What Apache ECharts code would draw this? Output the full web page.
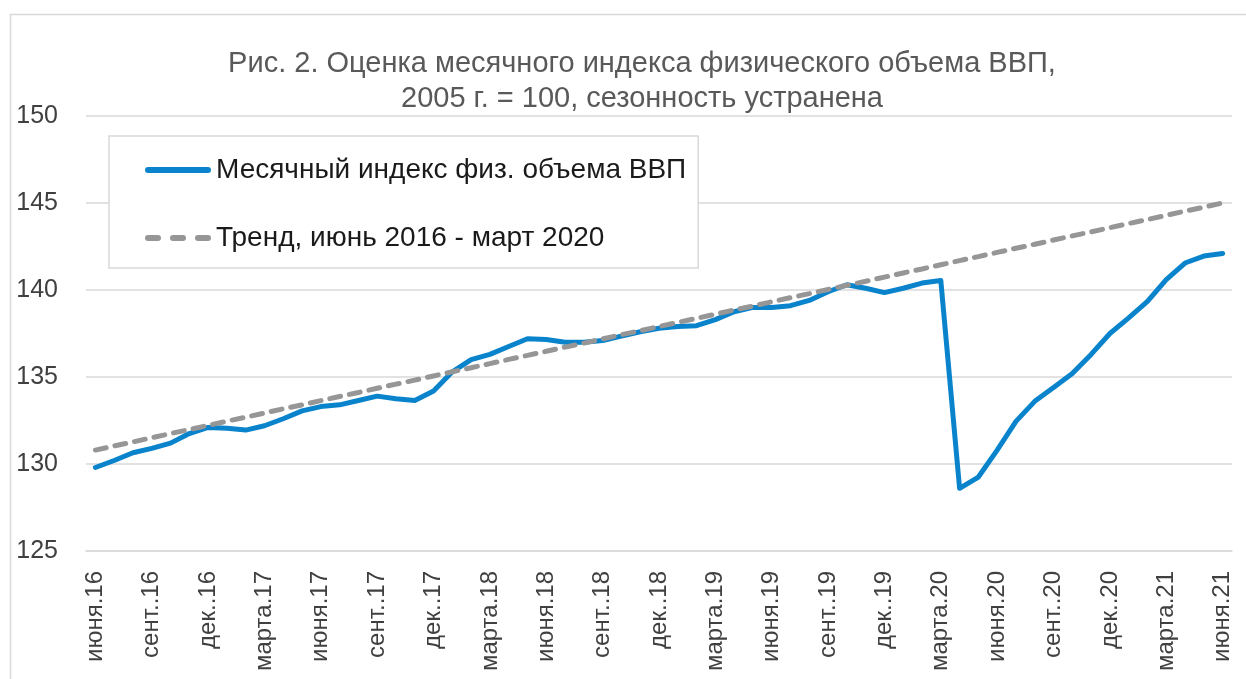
<!DOCTYPE html>
<html>
<head>
<meta charset="utf-8">
<script src="https://cdn.jsdelivr.net/npm/echarts@6/dist/echarts.min.js"></script>
<style>
html,body{margin:0;padding:0;background:#fff;}
#chart{width:1246px;height:679px;}
</style>
</head>
<body>
<div id="chart"></div>
<script>
// Month labels (Jun 2016 .. Jun 2021)
const monthNames = ['янв.', 'февр.', 'марта', 'апр.', 'мая', 'июня', 'июля', 'авг.', 'сент.', 'окт.', 'нояб.', 'дек.'];
const startYear = 2016, startMonth = 5, monthCount = 61;
const categories = [];
for (let k = 0; k < monthCount; k++) {
  const m = (startMonth + k) % 12;
  const y = startYear + Math.floor((startMonth + k) / 12);
  categories.push(monthNames[m] + '.' + String(y).slice(2));
}

const gdpIndex = [
  129.8, 130.2, 130.65, 130.9, 131.2, 131.75, 132.1, 132.05, 131.95, 132.2,
  132.6, 133.05, 133.3, 133.4, 133.65, 133.9, 133.75, 133.65, 134.2, 135.3,
  136.0, 136.3, 136.75, 137.2, 137.15, 137.0, 137.0, 137.1, 137.35, 137.6,
  137.8, 137.9, 137.95, 138.3, 138.75, 139.0, 139.0, 139.1, 139.4, 139.9,
  140.3, 140.1, 139.85, 140.1, 140.4, 140.55, 128.6, 129.25, 130.8, 132.45,
  133.6, 134.4, 135.2, 136.3, 137.5, 138.4, 139.35, 140.6, 141.55, 141.95, 142.1
];

const trend = [
  130.80, 131.04, 131.27, 131.51, 131.75, 131.98, 132.22, 132.46, 132.69, 132.93,
  133.17, 133.40, 133.64, 133.88, 134.11, 134.35, 134.59, 134.82, 135.06, 135.30,
  135.53, 135.77, 136.01, 136.24, 136.48, 136.72, 136.95, 137.19, 137.43, 137.66,
  137.90, 138.14, 138.37, 138.61, 138.85, 139.08, 139.32, 139.56, 139.79, 140.03,
  140.27, 140.50, 140.74, 140.98, 141.21, 141.45, 141.69, 141.92, 142.16, 142.40,
  142.63, 142.87, 143.11, 143.34, 143.58, 143.82, 144.05, 144.29, 144.53, 144.76, 145.00
];

const seriesNames = ['Месячный индекс физ. объема ВВП', 'Тренд, июнь 2016 - март 2020'];
const titleLines = 'Рис. 2. Оценка месячного индекса физического объема ВВП,\n2005 г. = 100, сезонность устранена';

const FONT = 'Liberation Sans';
const BLUE = '#0984cc', GRAY = '#969696';
// legend icons (66 x 6 box)
const solidIcon = 'path://M3,0H63A3,3 0 0 1 63,6H3A3,3 0 0 1 3,0Z';
const dashIcon = 'path://M3,0H13A3,3 0 0 1 13,6H3A3,3 0 0 1 3,0Z' +
  'M28,0H38A3,3 0 0 1 38,6H28A3,3 0 0 1 28,0Z' +
  'M53,0H63A3,3 0 0 1 63,6H53A3,3 0 0 1 53,0Z';

const chart = echarts.init(document.getElementById('chart'), null, {renderer: 'canvas'});
chart.setOption({
  animation: false,
  backgroundColor: '#ffffff',
  graphic: [{
    type: 'rect', left: 8, top: 12, z: -10,
    shape: {x: 0, y: 0, width: 1400, height: 800},
    style: {fill: 'none', stroke: '#d9d9d9', lineWidth: 1.5}
  }],
  title: {
    text: titleLines,
    left: 637, top: 41, textAlign: 'center',
    textStyle: {fontFamily: FONT, fontSize: 29, fontWeight: 'normal', color: '#595959', lineHeight: 35}
  },
  legend: {
    orient: 'vertical',
    left: 109, top: 136,
    padding: [20, 12, 16, 36],
    itemGap: 40,
    itemWidth: 66, itemHeight: 6,
    borderColor: '#d9d9d9', borderWidth: 1.5,
    backgroundColor: '#ffffff',
    textStyle: {fontFamily: FONT, fontSize: 28, color: '#1a1a1a'},
    data: [
      {name: seriesNames[0], icon: solidIcon, itemStyle: {color: BLUE}},
      {name: seriesNames[1], icon: dashIcon, itemStyle: {color: GRAY}}
    ]
  },
  grid: {left: 86, right: 14, top: 116, bottom: 128},
  xAxis: {
    type: 'category',
    data: categories,
    boundaryGap: true,
    axisLine: {lineStyle: {color: '#d9d9d9', width: 1.5}},
    axisTick: {show: false},
    axisLabel: {interval: 2, rotate: 90, margin: 20, fontFamily: FONT, fontSize: 24, color: '#404040'},
    splitLine: {show: false}
  },
  yAxis: {
    type: 'value', min: 125, max: 150, interval: 5,
    axisLine: {show: false}, axisTick: {show: false},
    axisLabel: {margin: 28, fontFamily: FONT, fontSize: 25, color: '#404040'},
    splitLine: {lineStyle: {color: '#d9d9d9', width: 1.5}}
  },
  series: [
    {
      name: seriesNames[0], type: 'line', data: gdpIndex,
      symbol: 'none', smooth: false, z: 3,
      lineStyle: {color: BLUE, width: 5, join: 'round', cap: 'round'},
      itemStyle: {color: BLUE}
    },
    {
      name: seriesNames[1], type: 'line', data: trend,
      symbol: 'none', smooth: false, z: 4,
      lineStyle: {color: GRAY, width: 5, type: [11, 9], cap: 'round'},
      itemStyle: {color: GRAY}
    }
  ]
});
</script>
</body>
</html>
